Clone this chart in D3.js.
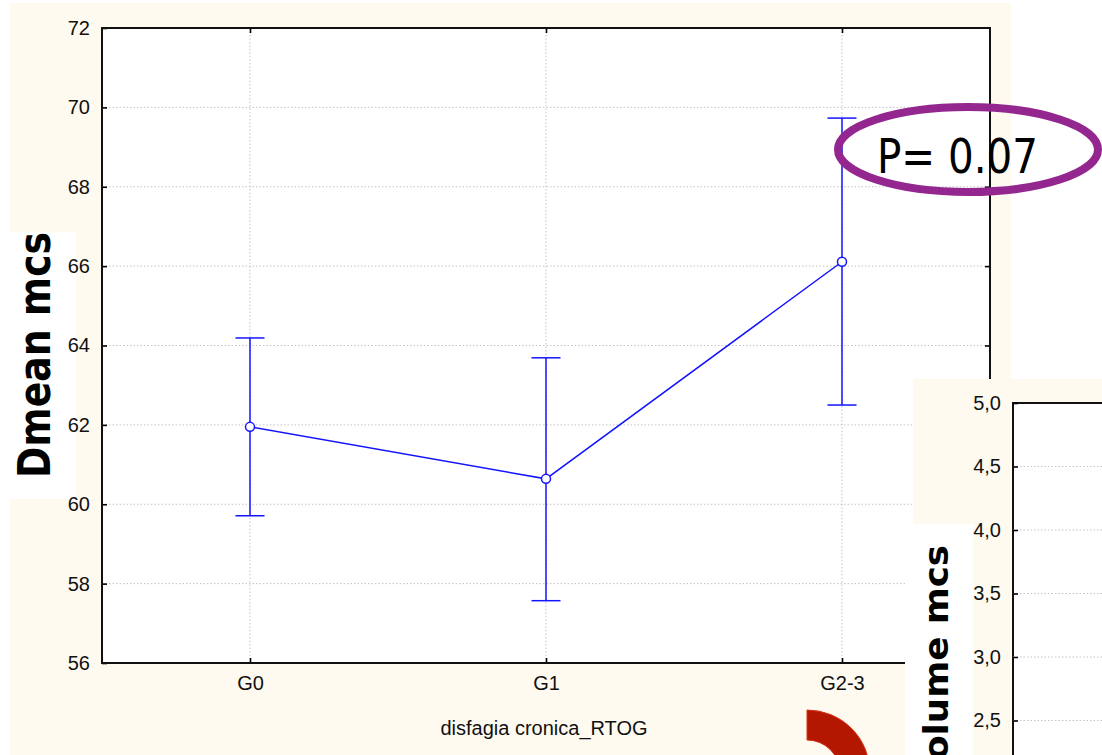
<!DOCTYPE html>
<html>
<head>
<meta charset="utf-8">
<script src="https://cdn.jsdelivr.net/npm/d3@7"></script>
<style>
  body { margin: 0; background: #fff; }
  svg { display: block; }
</style>
</head>
<body>
<div id="graph"></div>
<script>
// data
var groups = ["G0", "G1", "G2-3"];
var means = [61.95, 60.64, 66.11];
var upper = [64.19, 63.69, 69.73];
var lower = [59.71, 57.57, 62.50];
var yTicks = [56, 58, 60, 62, 64, 66, 68, 70, 72];
var insetTicks = [2.5, 3.0, 3.5, 4.0, 4.5, 5.0];
var pText = "P= 0.07";

var w = 1102, h = 755;
var cream = "#fffaf0";
var blue = "#1414ff";

var vis = d3.select("div#graph").append("svg")
    .attr("width", w)
    .attr("height", h);

// main panel (plot box edges)
var pLeft = 102, pRight = 990, pTop = 28, pBottom = 663;

var x = d3.scalePoint().domain(groups).range([pLeft, pRight]).padding(0.5);
var y = d3.scaleLinear().domain([56, 72]).range([pBottom, pTop]);

vis.append("rect")
   .attr("x", 10).attr("y", 3)
   .attr("width", 1001).attr("height", h - 3)
   .attr("fill", cream);

// white box behind the y title
vis.append("rect")
   .attr("x", 10).attr("y", 232)
   .attr("width", 66).attr("height", 267)
   .attr("fill", "#fff");

vis.append("rect")
   .attr("x", pLeft).attr("y", pTop)
   .attr("width", pRight - pLeft).attr("height", pBottom - pTop)
   .attr("fill", "#fff");

// dotted grid
vis.append("g").selectAll("line.hgrid")
   .data(yTicks.slice(1, -1))
   .enter().append("line")
   .attr("x1", pLeft).attr("x2", pRight)
   .attr("y1", function(d) { return y(d); })
   .attr("y2", function(d) { return y(d); })
   .attr("stroke", "#c4c4c4")
   .attr("stroke-dasharray", "1.5,2");

vis.append("g").selectAll("line.vgrid")
   .data(groups)
   .enter().append("line")
   .attr("y1", pTop).attr("y2", pBottom)
   .attr("x1", function(d) { return x(d); })
   .attr("x2", function(d) { return x(d); })
   .attr("stroke", "#c4c4c4")
   .attr("stroke-dasharray", "1.5,2");

// axes with inward ticks on all four sides
function styleAxis(g) {
  g.select(".domain").remove();
  g.selectAll(".tick line").attr("stroke", "#000").attr("stroke-width", 1.6);
  g.selectAll(".tick text")
   .attr("font-family", "Liberation Sans, Arial, sans-serif")
   .attr("font-size", 20)
   .attr("fill", "#111");
}

vis.append("g")
   .attr("transform", "translate(" + pLeft + ",0)")
   .call(d3.axisLeft(y).tickValues(yTicks).tickSize(-5).tickPadding(12))
   .call(styleAxis);

vis.append("g")
   .attr("transform", "translate(" + pRight + ",0)")
   .call(d3.axisRight(y).tickValues(yTicks.slice(1, -1)).tickSize(-5).tickFormat(""))
   .call(styleAxis);

vis.append("g")
   .attr("transform", "translate(0," + pBottom + ")")
   .call(d3.axisBottom(x).tickSize(-5).tickPadding(13))
   .call(styleAxis);

vis.append("g")
   .attr("transform", "translate(0," + pTop + ")")
   .call(d3.axisTop(x).tickSize(-5).tickFormat(""))
   .call(styleAxis);

vis.append("rect")
   .attr("x", pLeft).attr("y", pTop)
   .attr("width", pRight - pLeft).attr("height", pBottom - pTop)
   .attr("fill", "none")
   .attr("stroke", "#111")
   .attr("stroke-width", 2);

vis.append("text")
   .attr("x", (pLeft + pRight) / 2 - 2).attr("y", 735)
   .attr("text-anchor", "middle")
   .attr("font-family", "Liberation Sans, Arial, sans-serif")
   .attr("font-size", 20)
   .attr("fill", "#111")
   .text("disfagia cronica_RTOG");

vis.append("text")
   .attr("transform", "translate(50,355) rotate(-90)")
   .attr("text-anchor", "middle")
   .attr("font-family", "DejaVu Sans, sans-serif")
   .attr("font-weight", "bold")
   .attr("font-size", 44)
   .attr("textLength", 246)
   .attr("lengthAdjust", "spacingAndGlyphs")
   .attr("fill", "#000")
   .text("Dmean mcs");

// error bars, line and points
var pts = groups.map(function(g, i) {
  return { g: g, m: means[i], hi: upper[i], lo: lower[i] };
});

var bars = vis.append("g").selectAll("g.bar")
   .data(pts)
   .enter().append("g");

bars.append("line")
   .attr("x1", function(d) { return x(d.g); })
   .attr("x2", function(d) { return x(d.g); })
   .attr("y1", function(d) { return y(d.hi); })
   .attr("y2", function(d) { return y(d.lo); })
   .attr("stroke", blue).attr("stroke-width", 1.5);

bars.selectAll("line.cap")
   .data(function(d) { return [{ g: d.g, v: d.hi }, { g: d.g, v: d.lo }]; })
   .enter().append("line")
   .attr("x1", function(d) { return x(d.g) - 14.5; })
   .attr("x2", function(d) { return x(d.g) + 14.5; })
   .attr("y1", function(d) { return y(d.v); })
   .attr("y2", function(d) { return y(d.v); })
   .attr("stroke", blue).attr("stroke-width", 1.5);

vis.append("path")
   .datum(pts)
   .attr("fill", "none")
   .attr("stroke", blue).attr("stroke-width", 1.5)
   .attr("d", d3.line()
      .x(function(d) { return x(d.g); })
      .y(function(d) { return y(d.m); }));

vis.append("g").selectAll("circle")
   .data(pts)
   .enter().append("circle")
   .attr("cx", function(d) { return x(d.g); })
   .attr("cy", function(d) { return y(d.m); })
   .attr("r", 4.5)
   .attr("fill", "#fff")
   .attr("stroke", blue).attr("stroke-width", 1.5);

// p value callout
vis.append("ellipse")
   .attr("cx", 968).attr("cy", 149.5)
   .attr("rx", 130).attr("ry", 42.5)
   .attr("fill", "none")
   .attr("stroke", "#93278f")
   .attr("stroke-width", 8);

vis.append("text")
   .attr("x", 877).attr("y", 173)
   .attr("font-family", "DejaVu Sans, sans-serif")
   .attr("font-size", 48)
   .attr("textLength", 161)
   .attr("lengthAdjust", "spacingAndGlyphs")
   .attr("fill", "#000")
   .text(pText);

// red arc fragment at the bottom
vis.append("path")
   .attr("transform", "translate(807,773)")
   .attr("d", d3.arc()
      .innerRadius(33)
      .outerRadius(63)
      .startAngle(0)
      .endAngle(Math.PI / 2))
   .attr("fill", "#b31700")
   .attr("stroke", "#d8321a")
   .attr("stroke-width", 1);

// second chart peeking in from the lower right
var iLeft = 1013, iTop = 403;
var yi = d3.scaleLinear().domain([2.5, 5.0]).range([720.5, iTop]);

vis.append("rect")
   .attr("x", 913).attr("y", 379)
   .attr("width", w - 913).attr("height", h - 379)
   .attr("fill", cream);

vis.append("rect")
   .attr("x", 905).attr("y", 524)
   .attr("width", 68).attr("height", h - 524)
   .attr("fill", "#fff");

vis.append("rect")
   .attr("x", iLeft).attr("y", iTop)
   .attr("width", w - iLeft + 5).attr("height", h - iTop + 5)
   .attr("fill", "#fff")
   .attr("stroke", "#111")
   .attr("stroke-width", 2);

vis.append("g").selectAll("line")
   .data(insetTicks.slice(0, -1))
   .enter().append("line")
   .attr("x1", iLeft).attr("x2", w)
   .attr("y1", function(d) { return yi(d); })
   .attr("y2", function(d) { return yi(d); })
   .attr("stroke", "#c4c4c4")
   .attr("stroke-dasharray", "1.5,2");

vis.append("g")
   .attr("transform", "translate(" + iLeft + ",0)")
   .call(d3.axisLeft(yi).tickValues(insetTicks).tickSize(-5).tickPadding(12)
      .tickFormat(function(d) { return d3.format(".1f")(d).replace(".", ","); }))
   .call(styleAxis);

vis.append("text")
   .attr("transform", "translate(948,545) rotate(-90)")
   .attr("text-anchor", "end")
   .attr("font-family", "DejaVu Sans, sans-serif")
   .attr("font-weight", "bold")
   .attr("font-size", 34)
   .attr("textLength", 238)
   .attr("lengthAdjust", "spacingAndGlyphs")
   .attr("fill", "#000")
   .text("volume mcs");
</script>
</body>
</html>
